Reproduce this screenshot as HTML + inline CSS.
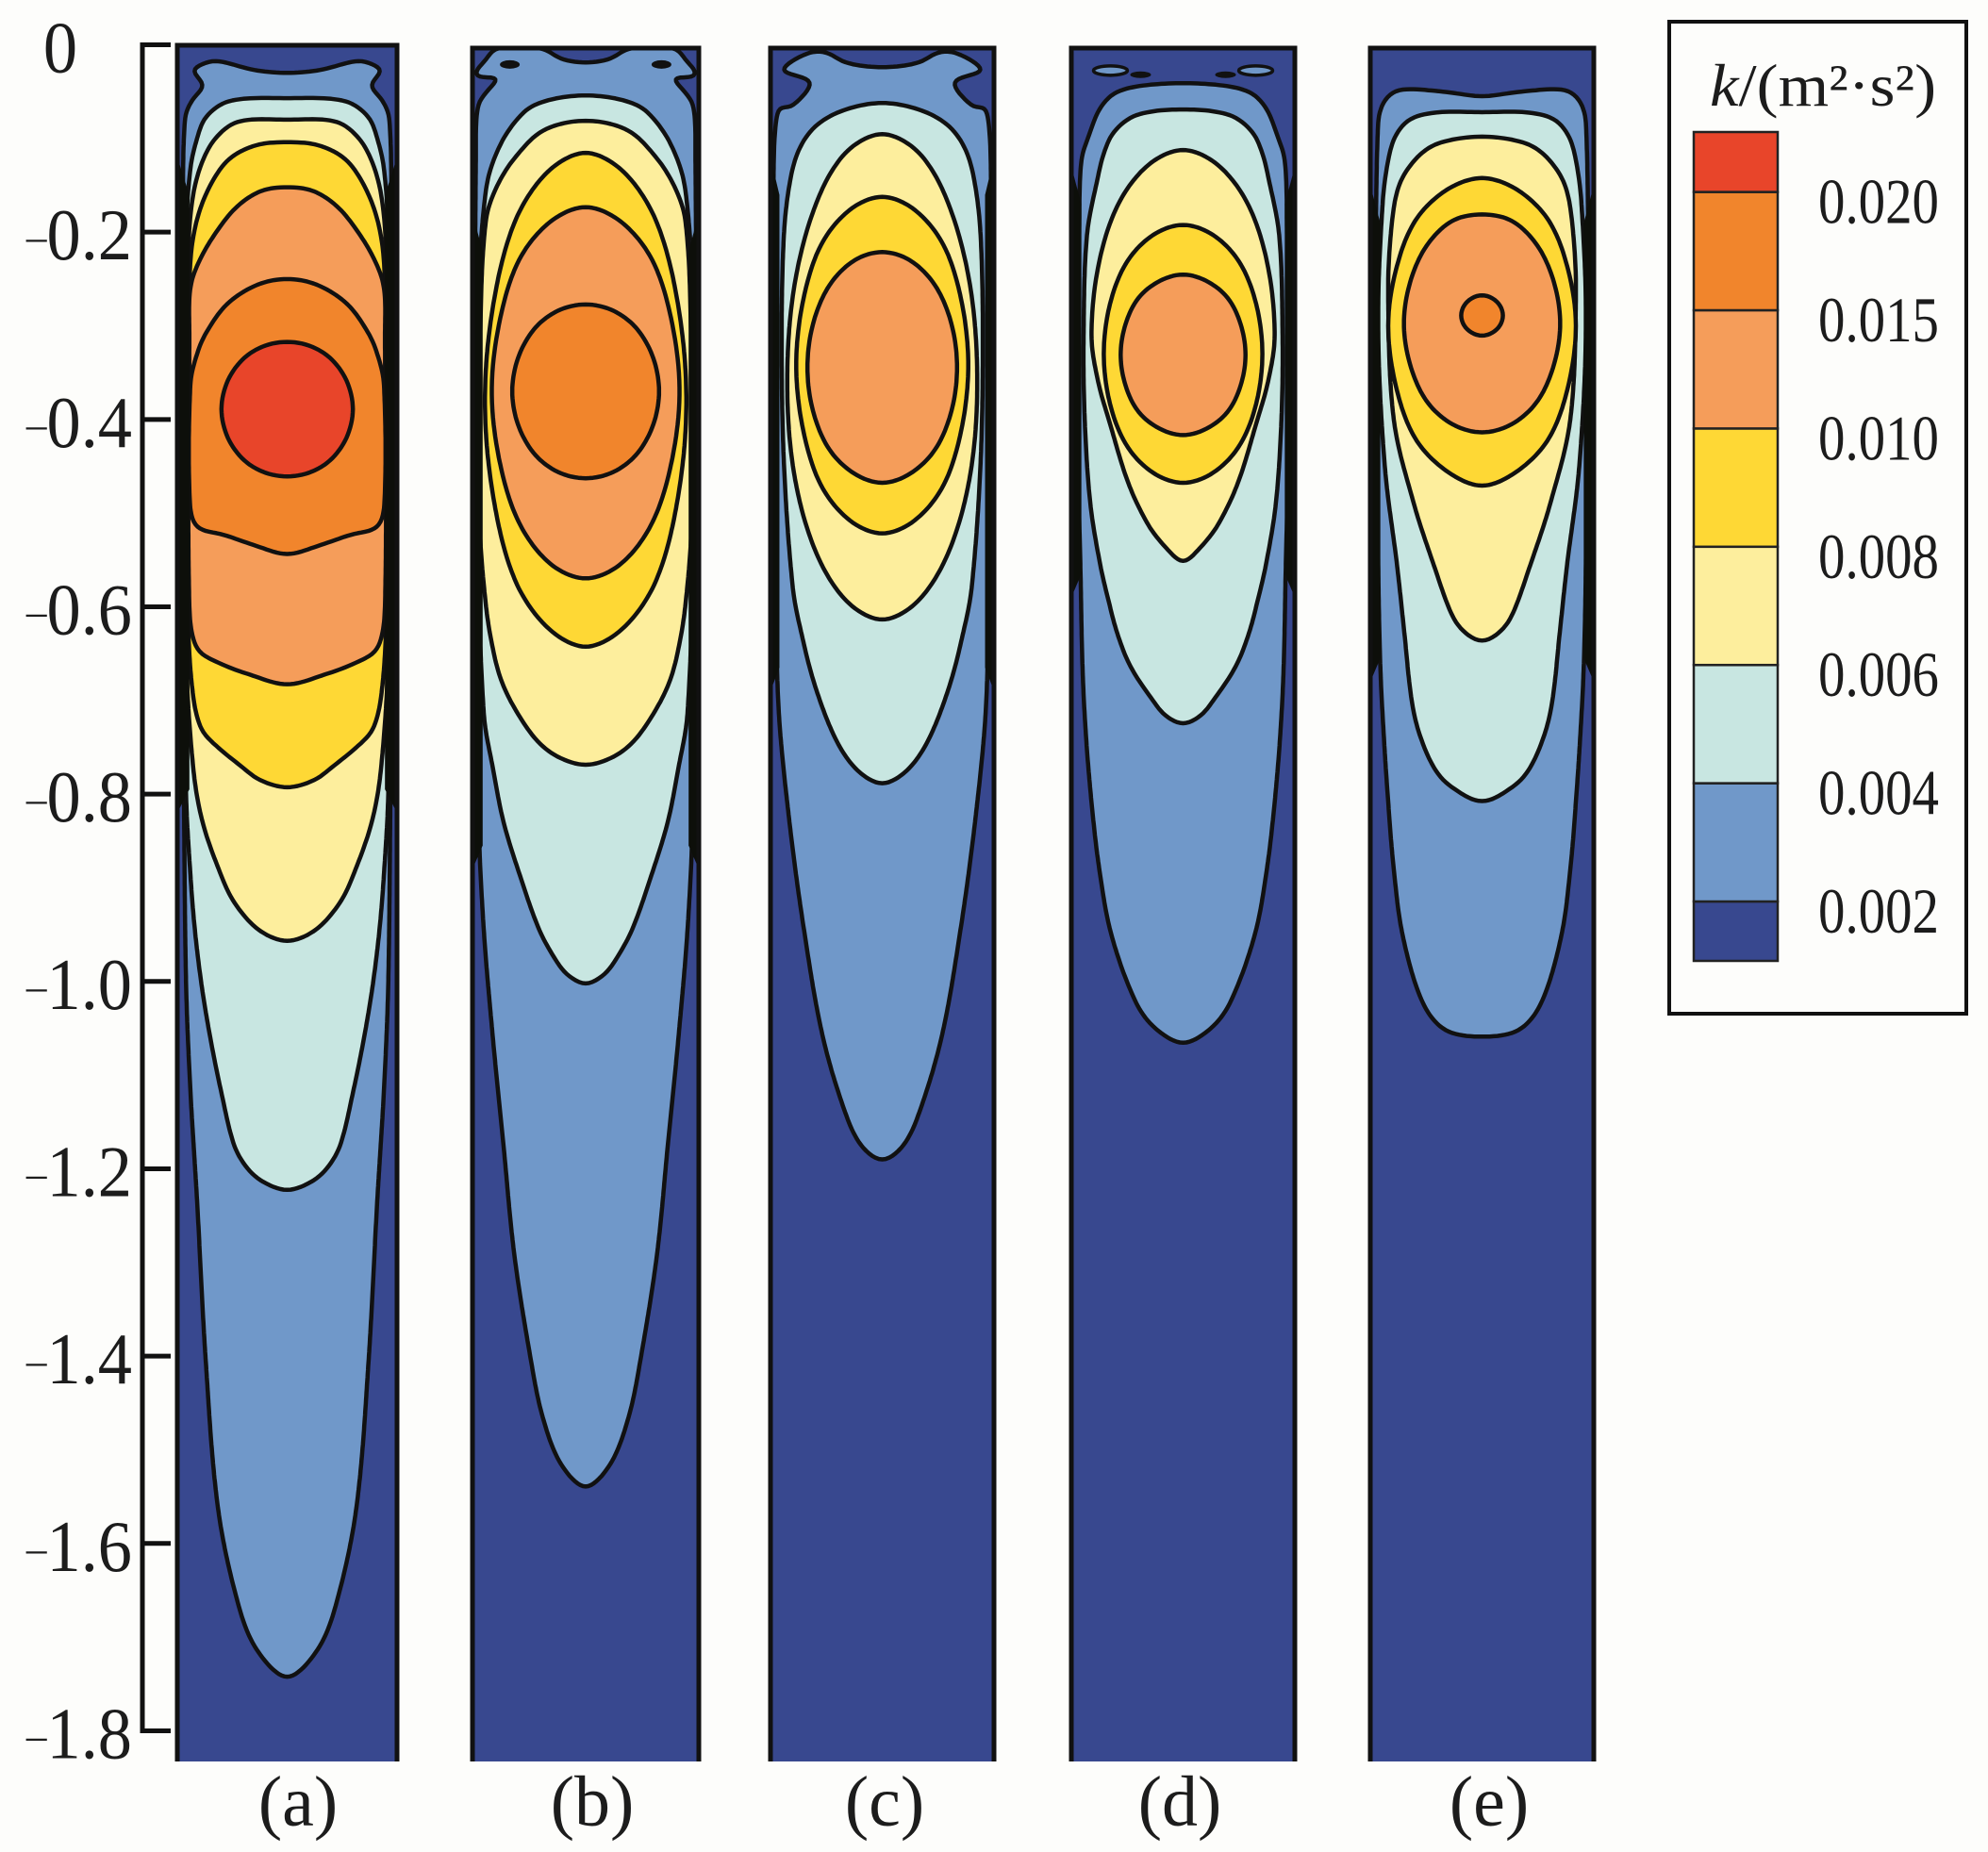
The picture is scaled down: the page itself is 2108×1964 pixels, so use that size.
<!DOCTYPE html>
<html lang="en">
<head>
<meta charset="utf-8">
<title>Turbulent kinetic energy contours</title>
<style>
html,body{margin:0;padding:0;background:#fdfdfb;}
svg{display:block;}
text{font-family:"Liberation Serif",serif;fill:#1c1c1c;}
</style>
</head>
<body>
<svg id="chart" xmlns="http://www.w3.org/2000/svg" width="2108" height="1964" viewBox="0 0 2108 1964">
  <rect x="0" y="0" width="2108" height="1964" fill="#fdfdfb"/>
  <g id="axis"></g>
  <g id="panels"></g>
  <g font-size="76" text-anchor="middle">
    <text x="316" y="1936">(a)</text>
    <text x="628" y="1936">(b)</text>
    <text x="938" y="1936">(c)</text>
    <text x="1251" y="1936">(d)</text>
    <text x="1579" y="1936">(e)</text>
  </g>
  <g id="legend">
    <rect x="1770" y="23" width="315" height="1052" fill="#fdfdfb" stroke="#111" stroke-width="4"/>
    <text x="1813" y="112" font-size="64" textLength="240" lengthAdjust="spacingAndGlyphs"><tspan font-style="italic">k</tspan>/(m²·s²)</text>
  </g>
</svg>
<script>
// Depth axis values
const depthTicks = [0, -0.2, -0.4, -0.6, -0.8, -1.0, -1.2, -1.4, -1.6, -1.8];
const depthTickLabels = ['0', '-0.2', '-0.4', '-0.6', '-0.8', '-1.0', '-1.2', '-1.4', '-1.6', '-1.8'];

// Legend values, lowest to highest
const legendLevels = ['0.002', '0.004', '0.006', '0.008', '0.010', '0.015', '0.020'];

// Contours: each is [depth below surface, half-width as a fraction of the panel half-width]
const panelNames = ['a', 'b', 'c', 'd', 'e'];

const a1 = [[.03,0],[.027,.3],[.017,.65],[.022,.8],[.028,.86],[.043,.76],[.059,.865],[.078,.93],[.2,.95],[.5,.97],[.8,.94],[1.003,.92],[1.118,.88],[1.234,.82],[1.407,.74],[1.562,.63],[1.663,.45],[1.713,.28],[1.743,0]];
const a2 = [[.057,0],[.06,.53],[.077,.74],[.1,.82],[.131,.88],[.2,.92],[.5,.95],[.8,.92],[.887,.88],[.945,.84],[1.003,.78],[1.06,.7],[1.118,.6],[1.176,.48],[1.2,.36],[1.214,.22],[1.223,0]];
const a3 = [[.08,0],[.082,.45],[.1,.655],[.127,.78],[.163,.86],[.22,.9],[.4,.92],[.65,.92],[.772,.855],[.83,.77],[.887,.6],[.916,.48],[.945,.26],[.957,0]];
const a4 = [[.104,0],[.107,.28],[.122,.53],[.15,.7],[.186,.82],[.23,.88],[.35,.91],[.62,.9],[.696,.855],[.731,.78],[.748,.65],[.772,.4],[.785,.25],[.793,0]];
const a5 = [[.152,0],[.156,.24],[.172,.45],[.194,.61],[.226,.78],[.258,.88],[.311,.89],[.6,.89],[.645,.82],[.66,.62],[.672,.35],[.683,0]];
const a6 = [[.25,0],[.256,.27],[.277,.55],[.31,.75],[.33,.82],[.36,.88],[.491,.885],[.515,.82],[.523,.58],[.535,.28],[.544,0]];
const a7 = [[.317,0],[.321,.2],[.334,.39],[.358,.54],[.389,.6],[.42,.54],[.444,.39],[.457,.2],[.461,0]];
const panelAContours = [a1, a2, a3, a4, a5, a6, a7];

const b1 = [[.019,0],[.015,.22],[.004,.38],[.004,.8],[.016,.88],[.028,.97],[.034,.97],[.036,.78],[.048,.86],[.064,.95],[.12,.97],[.5,.98],[.83,.945],[.945,.9],[1.06,.82],[1.176,.725],[1.292,.63],[1.407,.48],[1.465,.38],[1.515,.22],[1.54,0]];
const b2 = [[.054,0],[.064,.45],[.087,.655],[.119,.8],[.154,.88],[.25,.94],[.5,.96],[.714,.9],[.772,.82],[.83,.725],[.887,.58],[.945,.41],[.974,.28],[.992,.17],[1.003,0]];
const b3 = [[.081,0],[.091,.37],[.119,.615],[.15,.78],[.186,.88],[.3,.93],[.5,.94],[.6,.88],[.656,.8],[.685,.725],[.714,.6],[.743,.43],[.76,.25],[.769,0]];
const b4 = [[.115,0],[.136,.34],[.19,.63],[.28,.82],[.38,.89],[.48,.82],[.57,.63],[.622,.34],[.643,0]];
const b5 = [[.173,0],[.189,.315],[.23,.59],[.295,.76],[.37,.83],[.445,.76],[.51,.59],[.554,.315],[.57,0]];
const b6 = [[.277,0],[.284,.25],[.304,.46],[.335,.6],[.37,.65],[.405,.6],[.436,.46],[.456,.25],[.463,0]];
const panelBContours = [b1, b2, b3, b4, b5, b6];

const c1 = [[.024,0],[.019,.33],[.008,.5],[.009,.67],[.027,.89],[.04,.64],[.067,.82],[.066,.9],[.073,.94],[.12,.97],[.4,.98],[.6,.95],[.714,.925],[.83,.83],[.945,.7],[1.06,.53],[1.147,.31],[1.178,.17],[1.191,0]];
const c2 = [[.062,0],[.07,.35],[.087,.6],[.113,.75],[.149,.83],[.203,.88],[.311,.9],[.446,.88],[.58,.8],[.63,.72],[.685,.6],[.743,.41],[.775,.22],[.789,0]];
const c3 = [[.095,0],[.116,.335],[.172,.6],[.26,.79],[.36,.85],[.457,.79],[.54,.6],[.594,.32],[.614,0]];
const c4 = [[.162,0],[.176,.29],[.214,.55],[.274,.71],[.342,.77],[.41,.71],[.47,.55],[.508,.29],[.522,0]];
const c5 = [[.221,0],[.23,.25],[.257,.475],[.298,.62],[.3445,.67],[.391,.62],[.432,.475],[.458,.25],[.468,0]];
const panelCContours = [c1, c2, c3, c4, c5];

const d1 = [[.041,0],[.044,.39],[.052,.62],[.069,.75],[.096,.84],[.123,.91],[.2,.93],[.4,.95],[.55,.92],[.664,.9],[.736,.87],[.808,.82],[.88,.75],[.951,.64],[1.023,.42],[1.05,.25],[1.066,0]];
const d2 = [[.069,0],[.075,.42],[.093,.62],[.116,.71],[.14,.76],[.203,.86],[.311,.89],[.4,.88],[.49,.83],[.556,.74],[.592,.67],[.628,.59],[.664,.47],[.7,.27],[.716,.16],[.725,0]];
const d3 = [[.112,0],[.128,.31],[.17,.58],[.234,.755],[.31,.82],[.36,.76],[.402,.66],[.468,.49],[.513,.31],[.536,.16],[.552,0]];
const d4 = [[.192,0],[.203,.27],[.232,.505],[.277,.655],[.33,.71],[.383,.655],[.428,.505],[.457,.27],[.468,0]];
const d5 = [[.245,0],[.252,.21],[.27,.4],[.298,.515],[.331,.56],[.364,.515],[.392,.4],[.41,.21],[.417,0]];
const panelDContours = [d1, d2, d3, d4, d5];

const e1 = [[.055,0],[.05,.35],[.048,.74],[.059,.87],[.083,.93],[.3,.95],[.55,.93],[.664,.91],[.736,.88],[.808,.84],[.88,.79],[.951,.71],[1.023,.53],[1.052,.33],[1.059,0]];
const e2 = [[.072,0],[.072,.39],[.079,.64],[.096,.77],[.123,.84],[.17,.89],[.3,.93],[.45,.87],[.556,.76],[.628,.695],[.7,.63],[.736,.56],[.772,.43],[.79,.3],[.808,0]];
const e3 = [[.098,0],[.105,.39],[.12,.58],[.149,.74],[.194,.81],[.266,.84],[.4,.79],[.49,.61],[.556,.43],[.61,.265],[.628,.15],[.637,0]];
const e4 = [[.142,0],[.155,.32],[.188,.6],[.24,.77],[.3,.84],[.365,.77],[.42,.6],[.455,.32],[.471,0]];
const e5 = [[.181,0],[.188,.27],[.215,.5],[.254,.645],[.2975,.7],[.341,.645],[.38,.5],[.405,.27],[.414,0]];
const e6 = [[.267,0],[.269,.07],[.274,.135],[.281,.175],[.289,.19],[.297,.175],[.304,.135],[.309,.07],[.311,0]];
const panelEContours = [e1, e2, e3, e4, e5, e6];

// Small recirculation eddies near the surface: [depth, half-width fraction]
const panelBEddies = [[.021,.67]];
const panelDEddies = [[.0275,.65]];
const panelDEddyTails = [[.032,.38]];

// Near-wall regions where contours merge into solid black: [start depth, end depth, width fraction]
const wallBandA = [.12, .82, .11];
const wallBandB = [.18, .88, .09];
const wallBandC = [.12, .69, .08];
const wallBandD = [.13, .59, .09];
const wallBandE = [.15, .68, .09];

const SVG_NS = 'http://www.w3.org/2000/svg';
const levelColor = { 1:'#7098c9', 2:'#c8e6e1', 3:'#fdee9d', 4:'#fed835', 5:'#f59d5a', 6:'#f1852c', 7:'#e8452a' };
const NAVY = '#38488f';

function depthY(depth) { return 47.5 + depth * 993.3; }
function legendY(step) { return 956 - step * 125.4; }

function panelFrame(index) {
  if (index === 0) return { left: 188, right: 421, top: 48 };
  if (index === 1) return { left: 501, right: 741, top: 51 };
  if (index === 2) return { left: 817, right: 1054, top: 51 };
  if (index === 3) return { left: 1136, right: 1373, top: 51 };
  return { left: 1453, right: 1690, top: 51 };
}

function widthX(frame, fraction) {
  const cx = (frame.left + frame.right) / 2;
  return cx + fraction * (frame.right - frame.left) / 2;
}

// Chord-length spline through a closed loop, sampled and lightly smoothed
function closedSmoothPath(pts) {
  const n = pts.length;
  const len = [];
  for (let i = 0; i < n; i++) {
    const q = pts[(i + 1) % n];
    len[i] = Math.max(1, Math.hypot(q[0] - pts[i][0], q[1] - pts[i][1]));
  }
  const tan = [];
  for (let i = 0; i < n; i++) {
    const prev = (i - 1 + n) % n, next = (i + 1) % n;
    const total = len[prev] + len[i];
    tan[i] = [(pts[next][0] - pts[prev][0]) / total, (pts[next][1] - pts[prev][1]) / total];
  }
  let samples = [];
  for (let i = 0; i < n; i++) {
    const j = (i + 1) % n, p = pts[i], q = pts[j], d = len[i];
    const c1 = [p[0] + tan[i][0] * d / 3, p[1] + tan[i][1] * d / 3];
    const c2 = [q[0] - tan[j][0] * d / 3, q[1] - tan[j][1] * d / 3];
    const steps = Math.max(2, Math.ceil(d / 4));
    for (let s = 0; s < steps; s++) {
      const t = s / steps, u = 1 - t;
      samples.push([
        u*u*u*p[0] + 3*u*u*t*c1[0] + 3*u*t*t*c2[0] + t*t*t*q[0],
        u*u*u*p[1] + 3*u*u*t*c1[1] + 3*u*t*t*c2[1] + t*t*t*q[1]
      ]);
    }
  }
  for (let pass = 0; pass < 3; pass++) {
    const m = samples.length;
    samples = samples.map(function (s, i) {
      const a = samples[(i - 1 + m) % m], b = samples[(i + 1) % m];
      return [(a[0] + s[0] + b[0]) / 3, (a[1] + s[1] + b[1]) / 3];
    });
  }
  return 'M' + samples.map(function (s) { return s[0].toFixed(1) + ' ' + s[1].toFixed(1); }).join('L') + 'Z';
}

function contourPath(frame, contour) {
  const right = contour.map(function (p) { return [widthX(frame, p[1]), depthY(p[0])]; });
  const left = contour.slice(1, -1).reverse().map(function (p) { return [widthX(frame, -p[1]), depthY(p[0])]; });
  return closedSmoothPath(right.concat(left));
}

function make(tag, attrs, parent) {
  const el = document.createElementNS(SVG_NS, tag);
  for (const k in attrs) el.setAttribute(k, attrs[k]);
  parent.appendChild(el);
  return el;
}

// Depth axis
const axisGroup = document.getElementById('axis');
const axisSpine = make('line', { x1: 151, x2: 151, y1: depthY(0) - 2.5, y2: depthY(1.8) + 2.5, stroke: '#111', 'stroke-width': 5 }, axisGroup);


depthTicks.forEach(function (value, i) {
  const y = depthY(-value);
  const tick = make('line', { x1: 149, x2: 181, y1: y, y2: y, stroke: '#111', 'stroke-width': 5 }, axisGroup);
  
  
  const lx = value === 0 ? 64 : 140;
  const label = make('text', { transform: 'translate(' + lx + ' ' + (y + 29) + ') scale(0.94 1)', 'font-size': 77, 'text-anchor': value === 0 ? 'middle' : 'end' }, axisGroup);
  
  
  const text = depthTickLabels[i];
  if (text.charAt(0) === '-') {
    const minus = make('tspan', { 'font-size': 46, dy: -9 }, label);
    minus.textContent = '\u2013';
    const digits = make('tspan', { dy: 9 }, label);
    digits.textContent = text.slice(1);
  } else {
    label.textContent = text;
  }
});

// Panels
const panelsGroup = document.getElementById('panels');
const panelContours = [panelAContours, panelBContours, panelCContours, panelDContours, panelEContours];
const panelWallBands = [wallBandA, wallBandB, wallBandC, wallBandD, wallBandE];
const BOTTOM = 1868;
panelNames.forEach(function (name, index) {
  const frame = panelFrame(index);
  const g = make('g', {}, panelsGroup);
  
  
  const clipId = 'clip-' + name;
  const clip = make('clipPath', { id: clipId }, g);
  make('rect', { x: frame.left, y: frame.top, width: frame.right - frame.left, height: BOTTOM - frame.top }, clip);
  const field = make('rect', { x: frame.left, y: frame.top, width: frame.right - frame.left, height: BOTTOM - frame.top, fill: NAVY }, g);
  
  
  const inner = make('g', { 'clip-path': 'url(#' + clipId + ')' }, g);
  panelContours[index].forEach(function (contour, level) {
    const path = make('path', { d: contourPath(frame, contour), fill: levelColor[level + 1], stroke: '#111', 'stroke-width': 4.5, 'stroke-linejoin': 'round' }, inner);
    
    
  });
  const eddies = index === 1 ? panelBEddies : index === 3 ? panelDEddies : [];
  eddies.forEach(function (eddy) {
    [-1, 1].forEach(function (side) {
      const isD = index === 3;
      const ellipse = make('ellipse', {
        cx: widthX(frame, side * eddy[1]), cy: depthY(eddy[0]),
        rx: isD ? 18 : 10, ry: isD ? 5 : 4,
        fill: isD ? '#7098c9' : '#111', stroke: '#111', 'stroke-width': isD ? 3.5 : 1
      }, inner);
      
      
    });
  });
  if (index === 3) {
    panelDEddyTails.forEach(function (tail) {
      [-1, 1].forEach(function (side) {
        const ellipse = make('ellipse', { cx: widthX(frame, side * tail[1]), cy: depthY(tail[0]), rx: 11, ry: 3.5, fill: '#111' }, inner);
        
        
      });
    });
  }
  const band = panelWallBands[index];
  [-1, 1].forEach(function (side) {
    const x1 = widthX(frame, side);
    const x2 = widthX(frame, side * (1 - band[2]));
    const y1 = depthY(band[0]), y2 = depthY(band[1]);
    const tag = side < 0 ? 'left' : 'right';
    const wall = make('polygon', {
      points: x1 + ',' + y1 + ' ' + x2 + ',' + (y1 + 40) + ' ' + x2 + ',' + (y2 - 25) + ' ' + x1 + ',' + y2,
      fill: '#0d0f0a'
    }, inner);
    
    
  });
  const border = make('path', {
    d: 'M' + frame.left + ' ' + BOTTOM + 'V' + frame.top + 'H' + frame.right + 'V' + BOTTOM,
    fill: 'none', stroke: '#111', 'stroke-width': 5
  }, g);
  
  
});

// Legend colour bar
const legendGroup = document.getElementById('legend');
const barX = 1796, barW = 89;
const barTopEdge = 140, barBottomEdge = 1019;
const baseCell = make('rect', { x: barX, y: legendY(0), width: barW, height: barBottomEdge - legendY(0), fill: NAVY, stroke: '#222', 'stroke-width': 2.5 }, legendGroup);


legendLevels.forEach(function (level, i) {
  const top = i === legendLevels.length - 1 ? barTopEdge : legendY(i + 1);
  const cell = make('rect', { x: barX, y: top, width: barW, height: legendY(i) - top, fill: levelColor[i + 1], stroke: '#222', 'stroke-width': 2.5 }, legendGroup);
  
  
  const label = make('text', { x: 1928, y: legendY(i) + 33, 'font-size': 68, textLength: 128, lengthAdjust: 'spacingAndGlyphs' }, legendGroup);
  
  
  label.textContent = level;
});
</script>
</body>
</html>
